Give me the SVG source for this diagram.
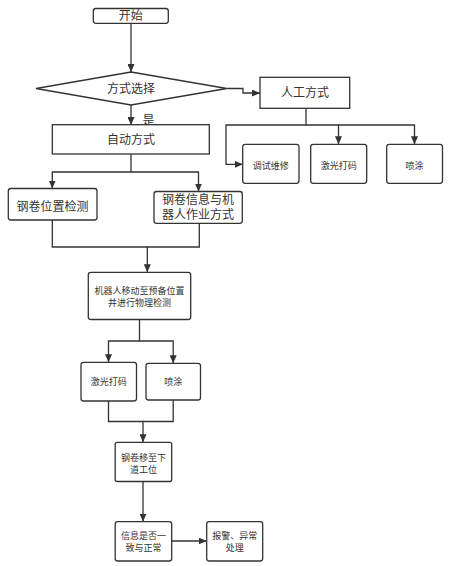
<svg xmlns="http://www.w3.org/2000/svg" width="451" height="566" viewBox="0 0 451 566">
<style>
.box{fill:#fff;stroke:#333;stroke-width:1.3}
.ln{fill:none;stroke:#333;stroke-width:1.3}
text{font-family:"Noto Sans CJK SC","Liberation Sans",sans-serif;fill:#333;text-anchor:middle}
.t12{font-size:12px}
.t9{font-size:9px}
</style>
<defs>
<marker id="arr" markerUnits="userSpaceOnUse" markerWidth="8" markerHeight="7" refX="8" refY="3.5" orient="auto">
<path d="M0,0 L8,3.5 L0,7 z" fill="#333"/>
</marker>
</defs>
<rect width="451" height="566" fill="#fff"/>
<g id="connectors">
<path class="ln" d="M131,23.3 V72" marker-end="url(#arr)"/>
<path class="ln" d="M226.7,88.5 H243 V93 H260" marker-end="url(#arr)"/>
<path class="ln" d="M131,105 V125" marker-end="url(#arr)"/>
<path class="ln" d="M306,108.3 V125 H226 V164.3 H242.7" marker-end="url(#arr)"/>
<path class="ln" d="M306,125 H338.5 V144.3" marker-end="url(#arr)"/>
<path class="ln" d="M338.5,125 H414.5 V144.3" marker-end="url(#arr)"/>
<path class="ln" d="M131,154 V172 H52.3 V188.5" marker-end="url(#arr)"/>
<path class="ln" d="M131,172 H198.5 V191.5" marker-end="url(#arr)"/>
<path class="ln" d="M52.3,220 V247 H147.3 V272.3" marker-end="url(#arr)"/>
<path class="ln" d="M199.3,223.3 V247 H147.3"/>
<path class="ln" d="M139.5,319.5 V341 H108.5 V362.3" marker-end="url(#arr)"/>
<path class="ln" d="M139.5,341 H173.2 V363.3" marker-end="url(#arr)"/>
<path class="ln" d="M108.5,401 V421.5 H143 V442.3" marker-end="url(#arr)"/>
<path class="ln" d="M173.2,400 V421.5 H143"/>
<path class="ln" d="M143,481.5 V521.7" marker-end="url(#arr)"/>
<path class="ln" d="M171.7,541 H206.7" marker-end="url(#arr)"/>
<text class="t12" x="148.5" y="124.5">是</text>
</g>
<g id="start">
<rect class="box" x="93.3" y="8.5" width="75" height="14.8" rx="2.5"/>
<text class="t12" x="130.8" y="20.4">开始</text>
</g>
<g id="choice">
<polygon class="box" points="131,72 226.7,88.5 131,105 36,88.5"/>
<text class="t12" x="131" y="93">方式选择</text>
</g>
<g id="manual">
<rect class="box" x="260" y="77.3" width="89.7" height="31"/>
<text class="t12" x="305" y="97.3">人工方式</text>
</g>
<g id="auto">
<rect class="box" x="52.3" y="124.7" width="157" height="29.3"/>
<text class="t12" x="131" y="143.8">自动方式</text>
</g>
<g id="debug">
<rect class="box" x="242.7" y="144.3" width="56.3" height="39" rx="2.5"/>
<text class="t9" x="270.8" y="169">调试维修</text>
</g>
<g id="laser1">
<rect class="box" x="310.7" y="144.3" width="56" height="39" rx="2.5"/>
<text class="t9" x="338.7" y="169">激光打码</text>
</g>
<g id="spray1">
<rect class="box" x="386.7" y="144.3" width="55.8" height="39" rx="2.5"/>
<text class="t9" x="414.5" y="169">喷涂</text>
</g>
<g id="pos">
<rect class="box" x="8.3" y="188.5" width="88.7" height="31.5" rx="2.5"/>
<text class="t12" x="52.6" y="210.5">钢卷位置检测</text>
</g>
<g id="info">
<rect class="box" x="154" y="191.5" width="88.3" height="31.8" rx="2.5"/>
<text class="t12" x="198.1" y="203.9"><tspan x="198.1">钢卷信息与机</tspan><tspan x="198.1" dy="15.5">器人作业方式</tspan></text>
</g>
<g id="robot">
<rect class="box" x="88.3" y="272.3" width="102.4" height="47.2" rx="2.5"/>
<text class="t9" x="139.5" y="293.7"><tspan x="139.5">机器人移动至预备位置</tspan><tspan x="139.5" dy="11.8">并进行物理检测</tspan></text>
</g>
<g id="laser2">
<rect class="box" x="81" y="362.3" width="55.5" height="38.7" rx="2.5"/>
<text class="t9" x="108.8" y="385">激光打码</text>
</g>
<g id="spray2">
<rect class="box" x="146" y="363.3" width="54.5" height="36.7" rx="2.5"/>
<text class="t9" x="173.2" y="385">喷涂</text>
</g>
<g id="move">
<rect class="box" x="115.2" y="442.3" width="56.5" height="39.2" rx="2"/>
<text class="t9" x="143.4" y="461.2"><tspan x="143.4">钢卷移至下</tspan><tspan x="143.4" dy="11.8">道工位</tspan></text>
</g>
<g id="check">
<rect class="box" x="115.2" y="521.7" width="56.5" height="39.3" rx="2.5"/>
<text class="t9" x="143.4" y="538.7"><tspan x="143.4">信息是否一</tspan><tspan x="143.4" dy="11.8">致与正常</tspan></text>
</g>
<g id="alarm">
<rect class="box" x="206.7" y="521.7" width="56" height="39.3" rx="2.5"/>
<text class="t9" x="234.7" y="538.7"><tspan x="234.7">报警、异常</tspan><tspan x="234.7" dy="11.8">处理</tspan></text>
</g>
</svg>
